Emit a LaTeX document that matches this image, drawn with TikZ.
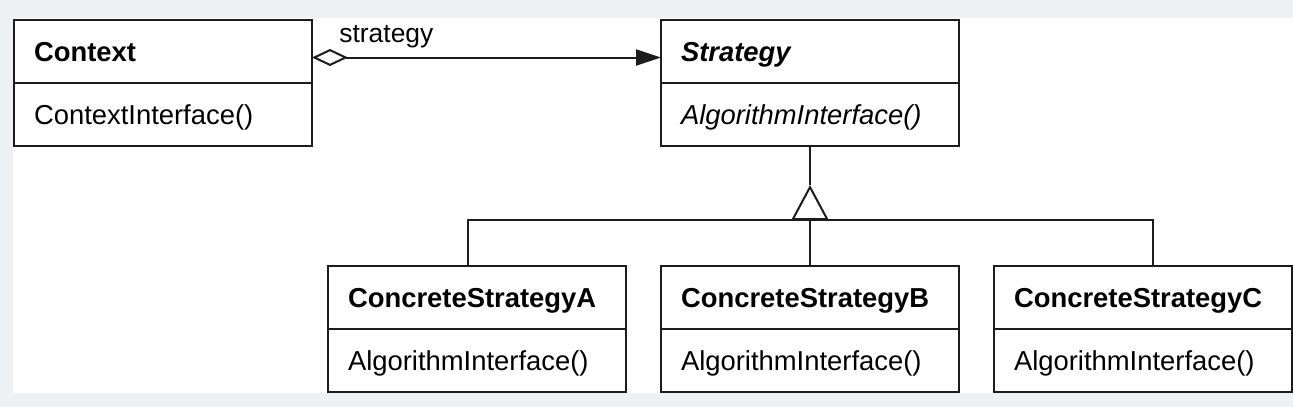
\documentclass[tikz,border=0pt]{standalone}
\usepackage{fontspec}
\setmainfont{Liberation Sans}
\usepackage{tikz}
\usetikzlibrary{arrows.meta,positioning,calc}
\definecolor{pagegray}{HTML}{EEF1F4}
\definecolor{ink}{HTML}{1C1C1C}
\tikzstyle{classpart}=[draw=ink, line width=1pt, fill=white, outer sep=0pt,
 inner xsep=10pt, inner ysep=0pt, text width=129pt, align=left,
 minimum height=31.5pt, text height=9.5pt, text depth=0pt,
 font=\fontsize{13.7}{16}\selectfont]
\tikzstyle{link}=[draw=ink, line width=1pt]
\newcommand{\classbox}[4]{
 \node[classpart, anchor=north west] (#1) at #2 {#3};
 \node[classpart, below=0pt of #1] (#1-op) {#4};
}

\begin{document}
\begin{tikzpicture}[x=0.5pt, y=-0.5pt]
 \fill[pagegray] (0,0) rectangle (1293,407);
 \useasboundingbox (0,0) rectangle (1293,407);
 \fill[white] (13,18) rectangle (1293,393);
%
 \classbox{ctx}{(14,20)}{\textbf{Context}}{ContextInterface()}
 \classbox{strat}{(661,20)}{\textbf{\textit{Strategy}}}{\textit{AlgorithmInterface()}}
 \classbox{csa}{(328,266)}{\textbf{ConcreteStrategyA}}{AlgorithmInterface()}
 \classbox{csb}{(661,266)}{\textbf{ConcreteStrategyB}}{AlgorithmInterface()}
 \classbox{csc}{(994,266)}{\textbf{ConcreteStrategyC}}{AlgorithmInterface()}
%
 \draw[link, {Diamond[open, length=18pt, width=8.5pt]}-{Triangle[length=12.5pt, width=8pt]}]
  ([yshift=-3pt]ctx.east) -- ([yshift=-3pt]strat.west);
 \node[anchor=base west, inner sep=0pt, font=\fontsize{13.2}{16}\selectfont] (role) at (339,42) {strategy};
%
 \coordinate (apex) at ([yshift=-19.5pt]strat-op.south);
 \coordinate (junction) at ([yshift=-37pt]strat-op.south);
 \draw[link] (strat-op.south) -- (apex);
 \draw[link, -{Triangle[open, length=17.5pt, width=18.5pt]}] (csb.north) -- (apex);
 \draw[link] ([xshift=-4.5pt]csa.north) |- (junction) -| ([xshift=5pt]csc.north);
\end{tikzpicture}
\end{document}
